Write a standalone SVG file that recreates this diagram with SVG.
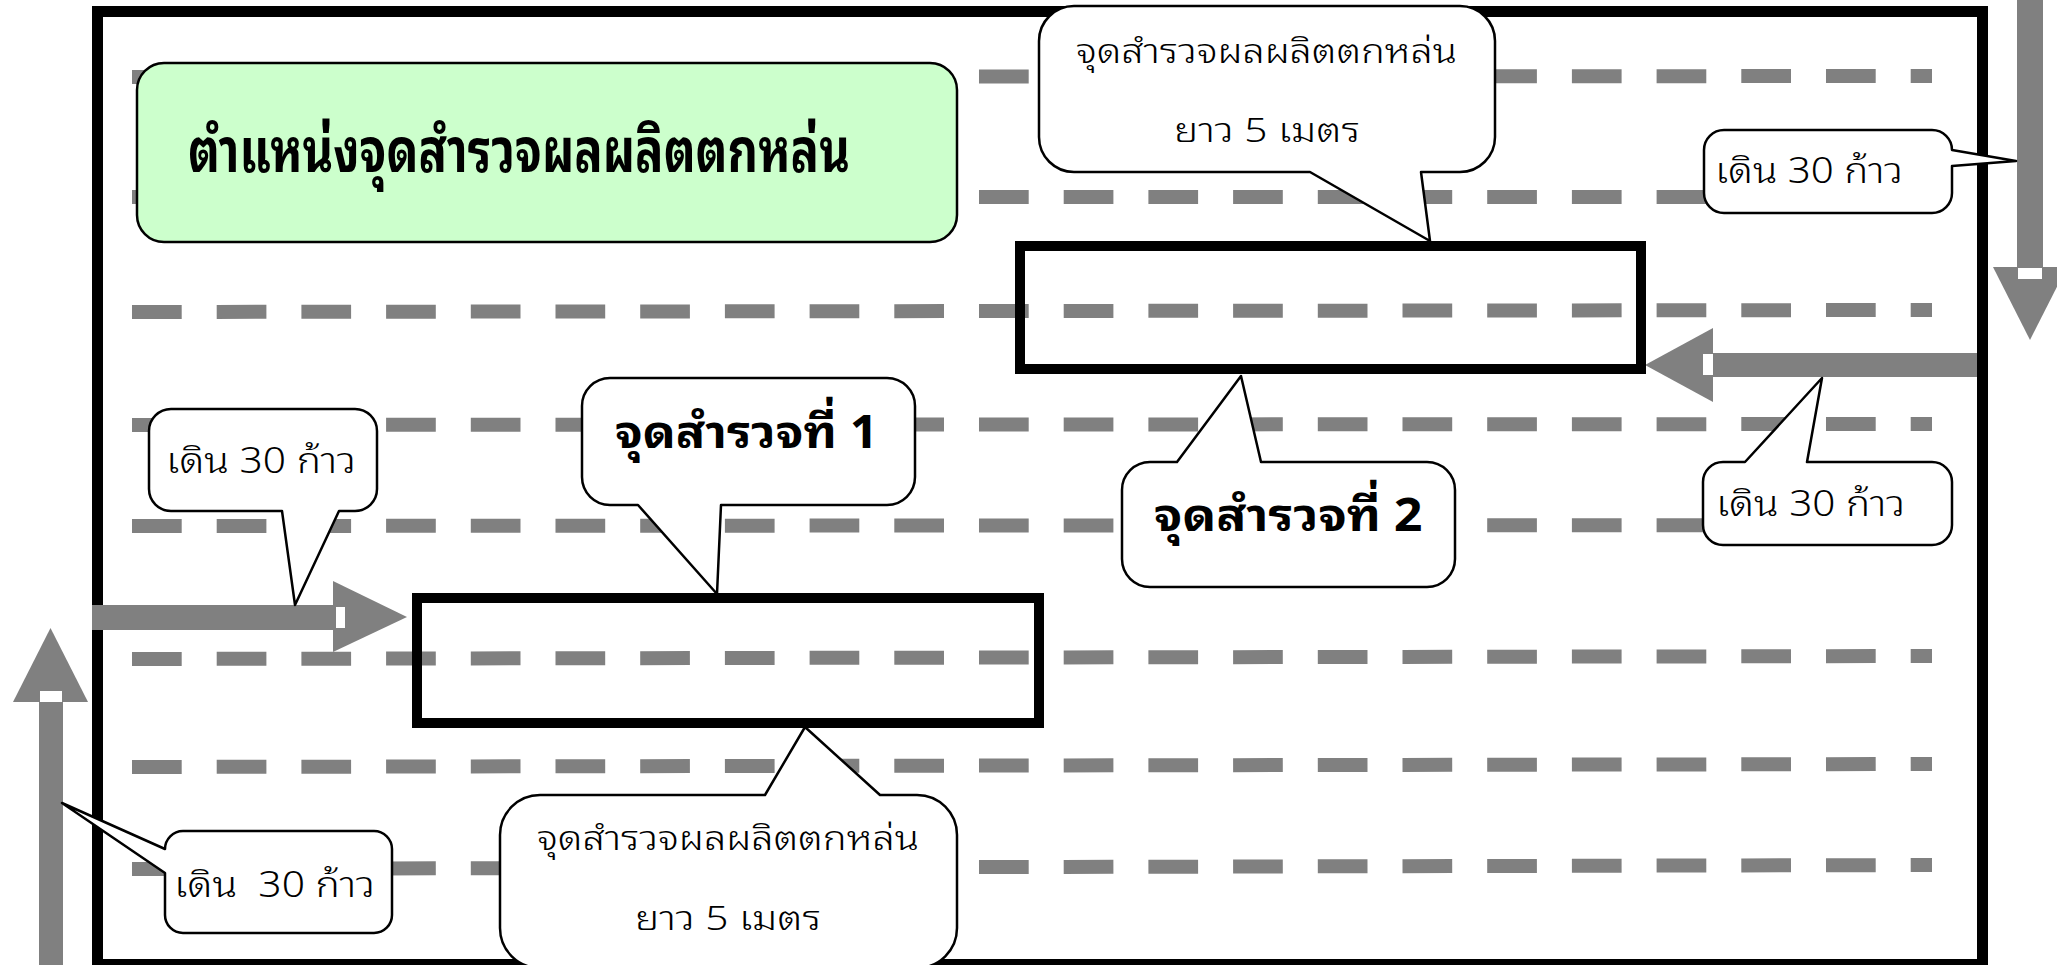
<svg xmlns="http://www.w3.org/2000/svg" width="2057" height="965" viewBox="0 0 2057 965">
  <style>
    .dash { fill: none; stroke: #808080; stroke-width: 14; stroke-dasharray: 49.7 35; }
    .border { fill: none; stroke: #000; stroke-width: 11; }
    .plot { fill: none; stroke: #000; stroke-width: 10; }
    .arrow { fill: #808080; }
    .notch { fill: #fff; }
    .callout { fill: #fff; stroke: #000; stroke-width: 2.5; stroke-linejoin: round; }
    .title-box { fill: #ccffcc; stroke: #000; stroke-width: 2.5; }
    .t { font-family: "Noto Sans Thai Looped", "Noto Sans Thai", "Noto Sans Thai UI", "Noto Sans", "DejaVu Sans", sans-serif; fill: #000; }
    .light { font-weight: 300; font-size: 36px; }
    .long { font-size: 33px; }
    .bold { font-weight: 700; }
  </style>

  <rect x="0" y="0" width="2057" height="965" fill="#fff"/>

  <!-- field rows -->
  <g id="rows">
    <line class="dash" x1="132" y1="77" x2="1932" y2="76"/>
    <line class="dash" x1="132" y1="197" x2="1932" y2="197"/>
    <line class="dash" x1="132" y1="312" x2="1932" y2="310"/>
    <line class="dash" x1="132" y1="425" x2="1932" y2="424"/>
    <line class="dash" x1="132" y1="526" x2="1932" y2="525"/>
    <line class="dash" x1="132" y1="659" x2="1932" y2="656"/>
    <line class="dash" x1="132" y1="767" x2="1932" y2="764"/>
    <line class="dash" x1="132" y1="869" x2="1932" y2="865"/>
  </g>

  <!-- field boundary -->
  <rect id="field" class="border" x="97.5" y="11.5" width="1885" height="953"/>

  <!-- walking route -->
  <g id="connectors">
    <g id="arrow-up">
      <rect class="arrow" x="39" y="702" width="24" height="270"/>
      <polygon class="arrow" points="13,702 88,702 50.5,628"/>
      <rect class="notch" x="40" y="691" width="22" height="11"/>
    </g>
    <g id="arrow-right">
      <rect class="arrow" x="92" y="605" width="242" height="25"/>
      <polygon class="arrow" points="333,581 333,652 407,617"/>
      <rect class="notch" x="336" y="607" width="9" height="21"/>
    </g>
    <g id="arrow-down">
      <rect class="arrow" x="2017" y="0" width="26" height="268"/>
      <polygon class="arrow" points="1993,267 2067,267 2030,340"/>
      <rect class="notch" x="2018" y="268" width="24" height="11"/>
    </g>
    <g id="arrow-left">
      <rect class="arrow" x="1712" y="353" width="265" height="24"/>
      <polygon class="arrow" points="1713,328 1713,402 1645,365"/>
      <rect class="notch" x="1703" y="354" width="10" height="21"/>
    </g>
  </g>

  <!-- survey plots -->
  <rect id="plot-1" class="plot" x="417" y="598" width="622" height="125"/>
  <rect id="plot-2" class="plot" x="1020" y="246" width="621" height="123"/>

  <g id="title">
    <rect class="title-box" x="137" y="63" width="820" height="179" rx="27" ry="27"/>
    <text class="t bold" x="188" y="172" font-size="60" textLength="662" lengthAdjust="spacingAndGlyphs">ตำแหน่งจุดสำรวจผลผลิตตกหล่น</text>
  </g>

  <g id="note-plot-2-length">
    <path class="callout" d="M1074,6 H1460 A35,35 0 0 1 1495,41 V137 A35,35 0 0 1 1460,172 H1421 L1430,241 L1310,172 H1074 A35,35 0 0 1 1039,137 V41 A35,35 0 0 1 1074,6 Z"/>
    <text class="t light long" x="1076" y="63" textLength="381" lengthAdjust="spacingAndGlyphs">จุดสำรวจผลผลิตตกหล่น</text>
    <text class="t light long" x="1174" y="142" textLength="186" lengthAdjust="spacingAndGlyphs">ยาว 5 เมตร</text>
  </g>

  <g id="note-walk-down">
    <path class="callout" d="M1724,130 H1932 A20,20 0 0 1 1952,150 L2016,161 L1952,166 V193 A20,20 0 0 1 1932,213 H1724 A20,20 0 0 1 1704,193 V150 A20,20 0 0 1 1724,130 Z"/>
    <text class="t light" x="1715" y="183" textLength="188" lengthAdjust="spacingAndGlyphs">เดิน 30 ก้าว</text>
  </g>

  <g id="note-walk-left">
    <path class="callout" d="M1723,462 H1745 L1822,378 L1807,462 H1932 A20,20 0 0 1 1952,482 V525 A20,20 0 0 1 1932,545 H1723 A20,20 0 0 1 1703,525 V482 A20,20 0 0 1 1723,462 Z"/>
    <text class="t light" x="1716" y="516" textLength="189" lengthAdjust="spacingAndGlyphs">เดิน 30 ก้าว</text>
  </g>

  <g id="label-plot-2">
    <path class="callout" d="M1150,462 H1177 L1241,376 L1261,462 H1427 A28,28 0 0 1 1455,490 V559 A28,28 0 0 1 1427,587 H1150 A28,28 0 0 1 1122,559 V490 A28,28 0 0 1 1150,462 Z"/>
    <text class="t bold" x="1154" y="531" font-size="46" textLength="269" lengthAdjust="spacingAndGlyphs">จุดสำรวจที่ 2</text>
  </g>

  <g id="label-plot-1">
    <path class="callout" d="M610,378 H887 A28,28 0 0 1 915,406 V477 A28,28 0 0 1 887,505 H721 L717,594 L638,505 H610 A28,28 0 0 1 582,477 V406 A28,28 0 0 1 610,378 Z"/>
    <text class="t bold" x="615" y="448" font-size="46" textLength="263" lengthAdjust="spacingAndGlyphs">จุดสำรวจที่ 1</text>
  </g>

  <g id="note-walk-right">
    <path class="callout" d="M171,409 H355 A22,22 0 0 1 377,431 V489 A22,22 0 0 1 355,511 H339 L295,605 L282,511 H171 A22,22 0 0 1 149,489 V431 A22,22 0 0 1 171,409 Z"/>
    <text class="t light" x="166" y="473" textLength="190" lengthAdjust="spacingAndGlyphs">เดิน 30 ก้าว</text>
  </g>

  <g id="note-walk-up">
    <path class="callout" d="M183,831 H374 A18,18 0 0 1 392,849 V915 A18,18 0 0 1 374,933 H183 A18,18 0 0 1 165,915 V873 L62,803 L165,849 A18,18 0 0 1 183,831 Z"/>
    <text class="t light" x="174" y="897" textLength="201" lengthAdjust="spacingAndGlyphs" xml:space="preserve" style="white-space: pre">เดิน  30 ก้าว</text>
  </g>

  <g id="note-plot-1-length">
    <path class="callout" d="M540,795 H765 L805,727 L880,795 H917 A40,40 0 0 1 957,835 V928 A40,40 0 0 1 917,968 H540 A40,40 0 0 1 500,928 V835 A40,40 0 0 1 540,795 Z"/>
    <text class="t light long" x="537" y="850" textLength="382" lengthAdjust="spacingAndGlyphs">จุดสำรวจผลผลิตตกหล่น</text>
    <text class="t light long" x="635" y="930" textLength="186" lengthAdjust="spacingAndGlyphs">ยาว 5 เมตร</text>
  </g>
</svg>
